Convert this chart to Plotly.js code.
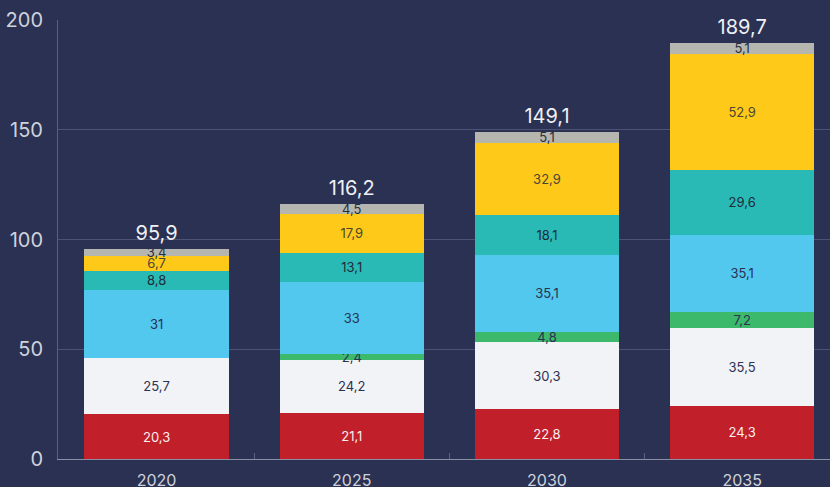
<!DOCTYPE html>
<html><head><meta charset="utf-8">
<script src="https://cdn.plot.ly/plotly-3.0.1.min.js"></script>
<style>html,body{margin:0;padding:0;background:#2a3152;}#chart{width:830px;height:487px;}</style>
</head><body><div id="chart"></div>
<script>
const years = ['2020', '2025', '2030', '2035'];
const seriesRed    = [20.3, 21.1, 22.8, 24.3];
const seriesWhite  = [25.7, 24.2, 30.3, 35.5];
const seriesGreen  = [0, 2.4, 4.8, 7.2];
const seriesBlue   = [31, 33, 35.1, 35.1];
const seriesTeal   = [8.8, 13.1, 18.1, 29.6];
const seriesYellow = [6.7, 17.9, 32.9, 52.9];
const seriesGrey   = [3.4, 4.5, 5.1, 5.1];
const totals       = [95.9, 116.2, 149.1, 189.7];

const fmt = v => v === 0 ? '' : String(v).replace('.', ',');
const defs = [
  [seriesRed, '#c1202b', '#fbeef0'],
  [seriesWhite, '#f2f3f6', '#2a3152'],
  [seriesGreen, '#3cb96b', '#2a3152'],
  [seriesBlue, '#52c8ef', '#2a3152'],
  [seriesTeal, '#29bab5', '#1f2b3a'],
  [seriesYellow, '#fec918', '#4a4535'],
  [seriesGrey, '#b6b6b1', '#2a2f40']
];
const traces = defs.map(([vals, col, tcol]) => ({
  type: 'bar', x: years, y: vals,
  marker: {color: col, line: {width: 0}},
  text: vals.map(fmt), textposition: 'inside', insidetextanchor: 'middle', textangle: 0,
  textfont: {family: 'Inter, sans-serif', size: 13, color: tcol},
  constraintext: 'none', hoverinfo: 'none'
}));

traces.push({
  type: 'scatter', mode: 'markers+text', x: years, y: totals,
  marker: {size: 4, opacity: 0},
  text: totals.map(fmt), textposition: 'top center', cliponaxis: false,
  textfont: {family: 'Inter, sans-serif', size: 20, color: '#eef0f5'},
  hoverinfo: 'none'
});

const layout = {
  width: 830, height: 487,
  paper_bgcolor: '#2a3152', plot_bgcolor: '#2a3152',
  margin: {l: 58, r: 0, t: 20, b: 28},
  barmode: 'stack', bargap: 0.26, showlegend: false,
  uniformtext: {mode: 'show', minsize: 13},
  xaxis: {
    type: 'category', range: [-0.505, 3.45],
    showline: true, linecolor: '#8a8fa3', linewidth: 1,
    ticks: 'inside', ticklen: 6, tickcolor: '#5b6180', tickson: 'boundaries',
    showgrid: false, ticklabelstandoff: 7,
    tickfont: {family: 'Inter, sans-serif', size: 16, color: '#cfd2dc'}
  },
  yaxis: {
    range: [0, 200], tickvals: [0, 50, 100, 150, 200],
    showline: true, linecolor: '#5b6180', linewidth: 1,
    gridcolor: '#4b5273', gridwidth: 1, zeroline: false,
    ticks: '', ticklabelstandoff: 10,
    tickfont: {family: 'Inter, sans-serif', size: 20, color: '#cfd2dc'}
  }
};
Plotly.newPlot('chart', traces, layout, {staticPlot: true});
</script></body></html>
